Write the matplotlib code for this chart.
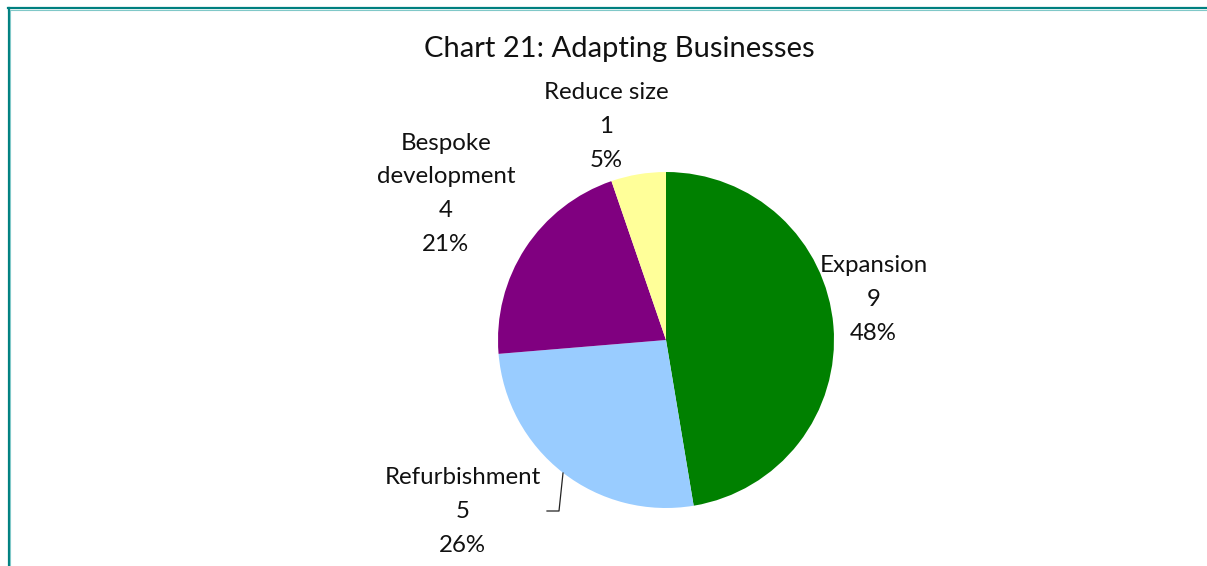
import matplotlib
matplotlib.use("Agg")
import matplotlib.pyplot as plt
from matplotlib.lines import Line2D

plt.rcParams['font.family'] = ['Lato', 'DejaVu Sans']

# Data
categories = ["Expansion", "Refurbishment", "Bespoke\ndevelopment", "Reduce size"]
counts = [9, 5, 4, 1]
percent_labels = ["48%", "26%", "21%", "5%"]
colors = ["#008000", "#99CCFF", "#800080", "#FFFF99"]

# Label anchor points in pie-radius units (layout)
label_pos = [(1.235, 0.24), (-1.21, -1.02), (-1.31, 0.87), (-0.357, 1.27)]

W, H, DPI = 1207, 566, 100
fig = plt.figure(figsize=(W / DPI, H / DPI), dpi=DPI)
ax = fig.add_axes([0, 0, 1, 1])

cx, cy, r = 666, 340, 168  # pie centre and radius in pixels

ax.pie(counts, colors=colors, startangle=90, counterclock=False,
       radius=1.0, center=(0, 0), frame=True,
       wedgeprops=dict(linewidth=0))
ax.set_xlim((0 - cx) / r, (W - cx) / r)
ax.set_ylim((cy - H) / r, cy / r)
ax.set_aspect("auto")
ax.axis("off")

for name, n, pct, (lx, ly) in zip(categories, counts, percent_labels, label_pos):
    ax.text(lx, ly, f"{name}\n{n}\n{pct}", ha="center", va="center",
            fontsize=17.3, color="#111111", linespacing=1.75)

# Leader line for the Refurbishment label
def px(x, y):
    return (x - cx) / r, (cy - y) / r

p = [px(563, 473), px(559, 511), px(547, 511)]
ax.plot([q[0] for q in p], [q[1] for q in p], color="#222222", lw=0.9)

# Title
tx, ty = px(619, 49)
ax.text(tx, ty, "Chart 21: Adapting Businesses", ha="center", va="center",
        fontsize=21, color="#111111")

# Chart-area border (top and left edges)
fig.add_artist(Line2D([8 / W, 1], [1 - 8 / H, 1 - 8 / H], transform=fig.transFigure,
                      color="#008080", lw=1.6))
fig.add_artist(Line2D([8 / W, 1], [1 - 9.5 / H, 1 - 9.5 / H], transform=fig.transFigure,
                      color="#80C8C8", lw=0.8))
fig.add_artist(Line2D([8.5 / W, 8.5 / W], [0, 1 - 8 / H], transform=fig.transFigure,
                      color="#008080", lw=1.6))
fig.add_artist(Line2D([10 / W, 10 / W], [0, 1 - 9.5 / H], transform=fig.transFigure,
                      color="#80C8C8", lw=0.8))

fig.savefig("out.png", dpi=DPI)
